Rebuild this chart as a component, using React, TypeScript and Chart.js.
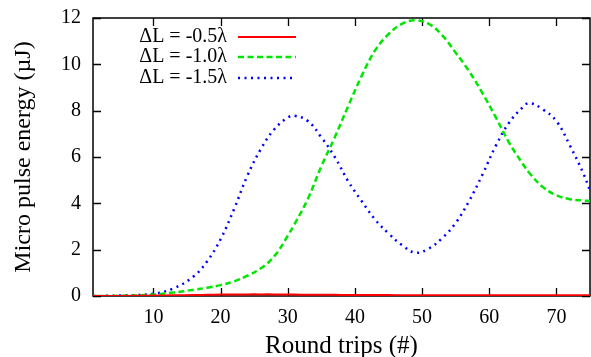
import React, { useEffect, useRef } from "react";
import { Chart, registerables } from "chart.js";

Chart.register(...registerables);

const roundTrips = [1, 5, 10, 13, 16, 18, 20, 22, 24, 26, 28, 30, 31, 33, 35, 37, 39, 41, 43, 45, 47, 49, 51, 53, 55, 57, 59, 61, 63, 65, 66, 68, 70, 72, 74, 75];

const energyMinus05 = [0, 0.005, 0.02, 0.03, 0.04, 0.05, 0.06, 0.065, 0.07, 0.07, 0.07, 0.065, 0.06, 0.055, 0.05, 0.05, 0.045, 0.04, 0.04, 0.04, 0.035, 0.035, 0.035, 0.035, 0.03, 0.03, 0.03, 0.03, 0.03, 0.03, 0.03, 0.03, 0.03, 0.03, 0.03, 0.03];

const energyMinus10 = [0, 0.01, 0.06, 0.15, 0.27, 0.36, 0.47, 0.63, 0.88, 1.2, 1.72, 2.6, 3.1, 4.2, 5.6, 6.85, 8.2, 9.5, 10.6, 11.3, 11.75, 11.9, 11.75, 11.25, 10.5, 9.7, 8.75, 7.7, 6.6, 5.7, 5.3, 4.7, 4.35, 4.18, 4.12, 4.1];

const energyMinus15 = [0, 0.02, 0.1, 0.33, 0.85, 1.5, 2.45, 3.75, 5.2, 6.35, 7.2, 7.7, 7.78, 7.55, 6.85, 6.0, 4.95, 4.1, 3.3, 2.7, 2.2, 1.87, 2.05, 2.5, 3.15, 4.1, 5.25, 6.5, 7.5, 8.15, 8.33, 8.05, 7.55, 6.5, 5.3, 4.55];

const seriesLabels = ["\u0394L = -0.5\u03bb", "\u0394L = -1.0\u03bb", "\u0394L = -1.5\u03bb"];
const xTicks = [10, 20, 30, 40, 50, 60, 70];
const yTicks = [0, 2, 4, 6, 8, 10, 12];

const FONT = "'Liberation Serif', 'DejaVu Serif', serif";

const framePlugin = {
  id: "gnuplotFrame",
  beforeDatasetsDraw(chart: any) {
    const { ctx, chartArea: a, scales } = chart;
    ctx.save();
    ctx.strokeStyle = "#000";
    ctx.lineWidth = 1.5;
    ctx.strokeRect(a.left, a.top, a.right - a.left, a.bottom - a.top);
    const len = 8;
    ctx.lineWidth = 1.3;
    ctx.beginPath();
    xTicks.forEach((v) => {
      const px = Math.round(scales.x.getPixelForValue(v)) + 0.5;
      ctx.moveTo(px, a.bottom);
      ctx.lineTo(px, a.bottom - len);
      ctx.moveTo(px, a.top);
      ctx.lineTo(px, a.top + len);
    });
    yTicks.forEach((v) => {
      const py = Math.round(scales.y.getPixelForValue(v)) + 0.5;
      ctx.moveTo(a.left, py);
      ctx.lineTo(a.left + len, py);
      ctx.moveTo(a.right, py);
      ctx.lineTo(a.right - len, py);
    });
    ctx.stroke();
    ctx.restore();
  },
  afterDraw(chart: any) {
    const { ctx } = chart;
    const rows = [37, 57, 78];
    ctx.save();
    ctx.font = "20px " + FONT;
    ctx.textAlign = "right";
    ctx.textBaseline = "middle";
    chart.data.datasets.forEach((ds: any, i: number) => {
      const y = rows[i];
      ctx.fillStyle = "#000";
      ctx.fillText(ds.label, 227, y);
      ctx.strokeStyle = ds.borderColor;
      ctx.lineWidth = ds.borderWidth;
      ctx.setLineDash(ds.borderDash || []);
      ctx.beginPath();
      ctx.moveTo(238, y);
      ctx.lineTo(296, y);
      ctx.stroke();
    });
    ctx.restore();
  },
};

export default function App() {
  const ref = useRef<HTMLCanvasElement>(null);

  useEffect(() => {
    document.body.style.margin = "0";
    const toPts = (ys: number[]) => roundTrips.map((x, i) => ({ x, y: ys[i] }));
    const chart = new Chart(ref.current as HTMLCanvasElement, {
      type: "line",
      data: {
        datasets: [
          {
            label: seriesLabels[0],
            data: toPts(energyMinus05),
            borderColor: "#ff0000",
            borderWidth: 2,
            borderDash: [],
          },
          {
            label: seriesLabels[1],
            data: toPts(energyMinus10),
            borderColor: "#00e600",
            borderWidth: 2.5,
            borderDash: [6, 3.5],
          },
          {
            label: seriesLabels[2],
            data: toPts(energyMinus15),
            borderColor: "#0000ff",
            borderWidth: 2.5,
            borderDash: [2, 4.5],
          },
        ] as any,
      },
      options: {
        animation: false,
        responsive: false,
        events: [],
        layout: { padding: { top: 18, right: 1, left: 0, bottom: 0 } },
        elements: {
          point: { radius: 0 },
          line: { tension: 0.4, fill: false },
        },
        plugins: {
          legend: { display: false },
          tooltip: { enabled: false },
        },
        scales: {
          x: {
            type: "linear",
            min: 1,
            max: 75,
            afterBuildTicks: (s: any) => {
              s.ticks = xTicks.map((v) => ({ value: v }));
            },
            afterFit: (s: any) => {
              s.height = 61;
              s.paddingLeft = 0;
              s.paddingRight = 0;
            },
            grid: { display: false, drawTicks: false },
            border: { display: false },
            ticks: {
              padding: 10,
              color: "#000",
              maxRotation: 0,
              autoSkip: false,
              font: { family: FONT, size: 20 },
            },
            title: {
              display: true,
              text: "Round trips (#)",
              color: "#000",
              padding: { top: 0, bottom: -2 },
              font: { family: FONT, size: 25, lineHeight: 1 },
            },
          },
          y: {
            type: "linear",
            min: 0,
            max: 12,
            afterBuildTicks: (s: any) => {
              s.ticks = yTicks.map((v) => ({ value: v }));
            },
            afterFit: (s: any) => {
              s.width = 93;
              s.paddingTop = 0;
              s.paddingBottom = 0;
            },
            grid: { display: false, drawTicks: false },
            border: { display: false },
            ticks: {
              padding: 12,
              color: "#000",
              autoSkip: false,
              font: { family: FONT, size: 20 },
            },
            title: {
              display: true,
              text: "Micro pulse energy (\u00b5J)",
              color: "#000",
              padding: { top: 12, bottom: 0 },
              font: { family: FONT, size: 24, lineHeight: 1 },
            },
          },
        },
      },
      plugins: [framePlugin],
    });
    return () => chart.destroy();
  }, []);

  return (
    <div style={{ position: "absolute", left: 0, top: 0, width: 591, height: 357 }}>
      <canvas ref={ref} width={591} height={357} style={{ display: "block" }} />
    </div>
  );
}
